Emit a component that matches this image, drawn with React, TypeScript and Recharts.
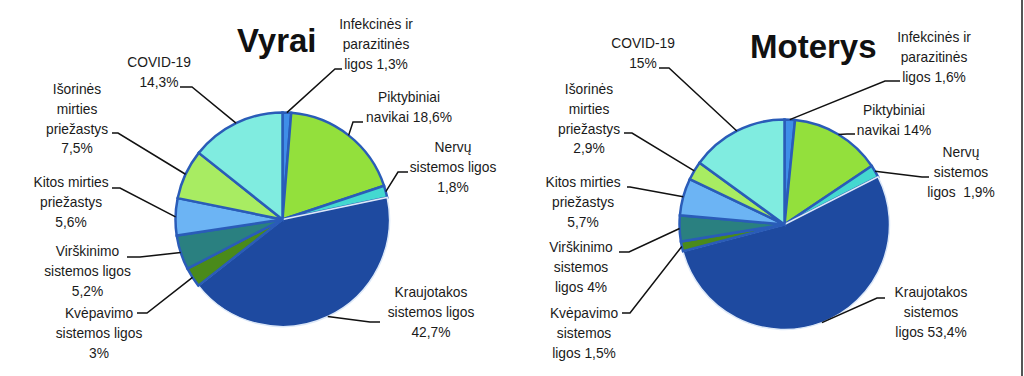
import { PieChart, Pie, Cell } from 'recharts';

// slice order: clockwise from 12 o'clock
const CAUSES = [
  'Infekcinės ir parazitinės ligos',
  'Piktybiniai navikai',
  'Nervų sistemos ligos',
  'Kraujotakos sistemos ligos',
  'Kvėpavimo sistemos ligos',
  'Virškinimo sistemos ligos',
  'Kitos mirties priežastys',
  'Išorinės mirties priežastys',
  'COVID-19',
];

const MEN_VALUES = [1.3, 18.6, 1.8, 42.7, 3, 5.2, 5.6, 7.5, 14.3];
const WOMEN_VALUES = [1.6, 14, 1.9, 53.4, 1.5, 4, 5.7, 2.9, 15];

const MEN_LABELS = [
  ['Infekcinės ir', 'parazitinės', 'ligos 1,3%'],
  ['Piktybiniai', 'navikai 18,6%'],
  ['Nervų', 'sistemos ligos', '1,8%'],
  ['Kraujotakos', 'sistemos ligos', '42,7%'],
  ['Kvėpavimo', 'sistemos ligos', '3%'],
  ['Virškinimo', 'sistemos ligos', '5,2%'],
  ['Kitos mirties', 'priežastys', '5,6%'],
  ['Išorinės', 'mirties', 'priežastys', '7,5%'],
  ['COVID-19', '14,3%'],
];

const WOMEN_LABELS = [
  ['Infekcinės ir', 'parazitinės', 'ligos 1,6%'],
  ['Piktybiniai', 'navikai 14%'],
  ['Nervų', 'sistemos', 'ligos  1,9%'],
  ['Kraujotakos', 'sistemos', 'ligos 53,4%'],
  ['Kvėpavimo', 'sistemos', 'ligos 1,5%'],
  ['Virškinimo', 'sistemos', 'ligos 4%'],
  ['Kitos mirties', 'priežastys', '5,7%'],
  ['Išorinės', 'mirties', 'priežastys', '2,9%'],
  ['COVID-19', '15%'],
];

const COLORS = ['#3f8ee8', '#93e03c', '#44d8d0', '#1e4aa0', '#4a8a1a', '#2a8080', '#6cb4f4', '#a8ec62', '#80ece0'];

// label placement: text centre x, first line centre y, leader elbow, leader end
type Place = { tx: number; ty: number; ex: number; ey: number; lx: number; ly: number };
const MEN_PLACE: Place[] = [
  { tx: 376, ty: 24, ex: 335, ey: 69, lx: 342, ly: 69 },
  { tx: 409, ty: 97, ex: 353, ey: 122, lx: 363, ly: 122 },
  { tx: 453, ty: 147, ex: 398, ey: 172, lx: 408, ly: 172 },
  { tx: 431, ty: 292, ex: 370, ey: 322, lx: 380, ly: 322 },
  { tx: 99, ty: 313, ex: 147, ey: 313, lx: 137, ly: 313 },
  { tx: 87.5, ty: 251, ex: 140, ey: 257, lx: 127, ly: 257 },
  { tx: 71, ty: 182, ex: 120, ey: 188, lx: 112, ly: 188 },
  { tx: 77, ty: 89, ex: 118, ey: 133, lx: 112, ly: 133 },
  { tx: 159, ty: 62, ex: 192, ey: 87, lx: 180, ly: 87 },
];
const WOMEN_PLACE: Place[] = [
  { tx: 934, ty: 37, ex: 885, ey: 81, lx: 900, ly: 81 },
  { tx: 894, ty: 110, ex: 847, ey: 134, lx: 855, ly: 134 },
  { tx: 961, ty: 152, ex: 922, ey: 177, lx: 929, ly: 177 },
  { tx: 931, ty: 292, ex: 877, ey: 298, lx: 885, ly: 298 },
  { tx: 584, ty: 313, ex: 630, ey: 313, lx: 622, ly: 313 },
  { tx: 581, ty: 247, ex: 629, ey: 252, lx: 619, ly: 252 },
  { tx: 583, ty: 182, ex: 630, ey: 187, lx: 627, ly: 187 },
  { tx: 589, ty: 89, ex: 632, ey: 133, lx: 624, ly: 133 },
  { tx: 643, ty: 43, ex: 669, ey: 68, lx: 659, ly: 68 },
];

const FONT = '"Liberation Sans", Arial, sans-serif';
const RAD = Math.PI / 180;

function makeLabel(labels: string[][], place: Place[]) {
  return (props: any) => {
    const { cx, cy, midAngle, outerRadius, index } = props;
    const p = place[index];
    const sx = cx + outerRadius * Math.cos(-midAngle * RAD);
    const sy = cy + outerRadius * Math.sin(-midAngle * RAD);
    return (
      <g key={`lbl-${index}`}>
        <polyline
          points={`${sx},${sy} ${p.ex},${p.ey} ${p.lx},${p.ly}`}
          fill="none"
          stroke="#111"
          strokeWidth={1.5}
        />
        {/* source text is slightly condensed */}
        <g transform={`translate(${p.tx} 0) scale(0.92 1)`}>
          {labels[index].map((line, i) => (
            <text
              key={i}
              x={0}
              y={p.ty + i * 19.7}
              textAnchor="middle"
              dominantBaseline="central"
              fontFamily={FONT}
              fontSize={15}
              fill="#1a1a1a"
              style={{ whiteSpace: 'pre' }}
            >
              {line}
            </text>
          ))}
        </g>
      </g>
    );
  };
}

const menData = CAUSES.map((name, i) => ({ name, value: MEN_VALUES[i] }));
const womenData = CAUSES.map((name, i) => ({ name, value: WOMEN_VALUES[i] }));

const titleStyle = {
  position: 'absolute' as const,
  fontFamily: '"Liberation Sans", Arial, sans-serif',
  fontWeight: 700,
  fontSize: 33,
  color: '#111',
  lineHeight: '33px',
};

export default function App() {
  return (
    <div style={{ position: 'fixed', left: 0, top: 0, width: 1024, height: 376, background: '#fff' }}>
      <PieChart width={1024} height={376}>
        <Pie
          data={menData}
          dataKey="value"
          cx={277.5}
          cy={214.5}
          outerRadius={107}
          startAngle={90}
          endAngle={-270}
          stroke="#2a5cb8"
          strokeWidth={2.5}
          label={makeLabel(MEN_LABELS, MEN_PLACE)}
          labelLine={false}
          isAnimationActive={false}
        >
          {menData.map((d, i) => (
            <Cell key={d.name} fill={COLORS[i]} stroke={i === 3 ? '#dce8f8' : '#2a5cb8'} strokeWidth={i === 3 ? 1.5 : 2.5} />
          ))}
        </Pie>
        <Pie
          data={womenData}
          dataKey="value"
          cx={779.5}
          cy={219.5}
          outerRadius={105}
          startAngle={90}
          endAngle={-270}
          stroke="#2a5cb8"
          strokeWidth={2.5}
          label={makeLabel(WOMEN_LABELS, WOMEN_PLACE)}
          labelLine={false}
          isAnimationActive={false}
        >
          {womenData.map((d, i) => (
            <Cell key={d.name} fill={COLORS[i]} stroke={i === 3 ? '#dce8f8' : '#2a5cb8'} strokeWidth={i === 3 ? 1.5 : 2.5} />
          ))}
        </Pie>
      </PieChart>
      <div style={{ ...titleStyle, left: 237, top: 24 }}>Vyrai</div>
      <div style={{ ...titleStyle, left: 750, top: 30 }}>Moterys</div>
      <div style={{ position: 'absolute', left: 1021, top: 0, width: 2, height: 376, background: '#555' }} />
    </div>
  );
}
